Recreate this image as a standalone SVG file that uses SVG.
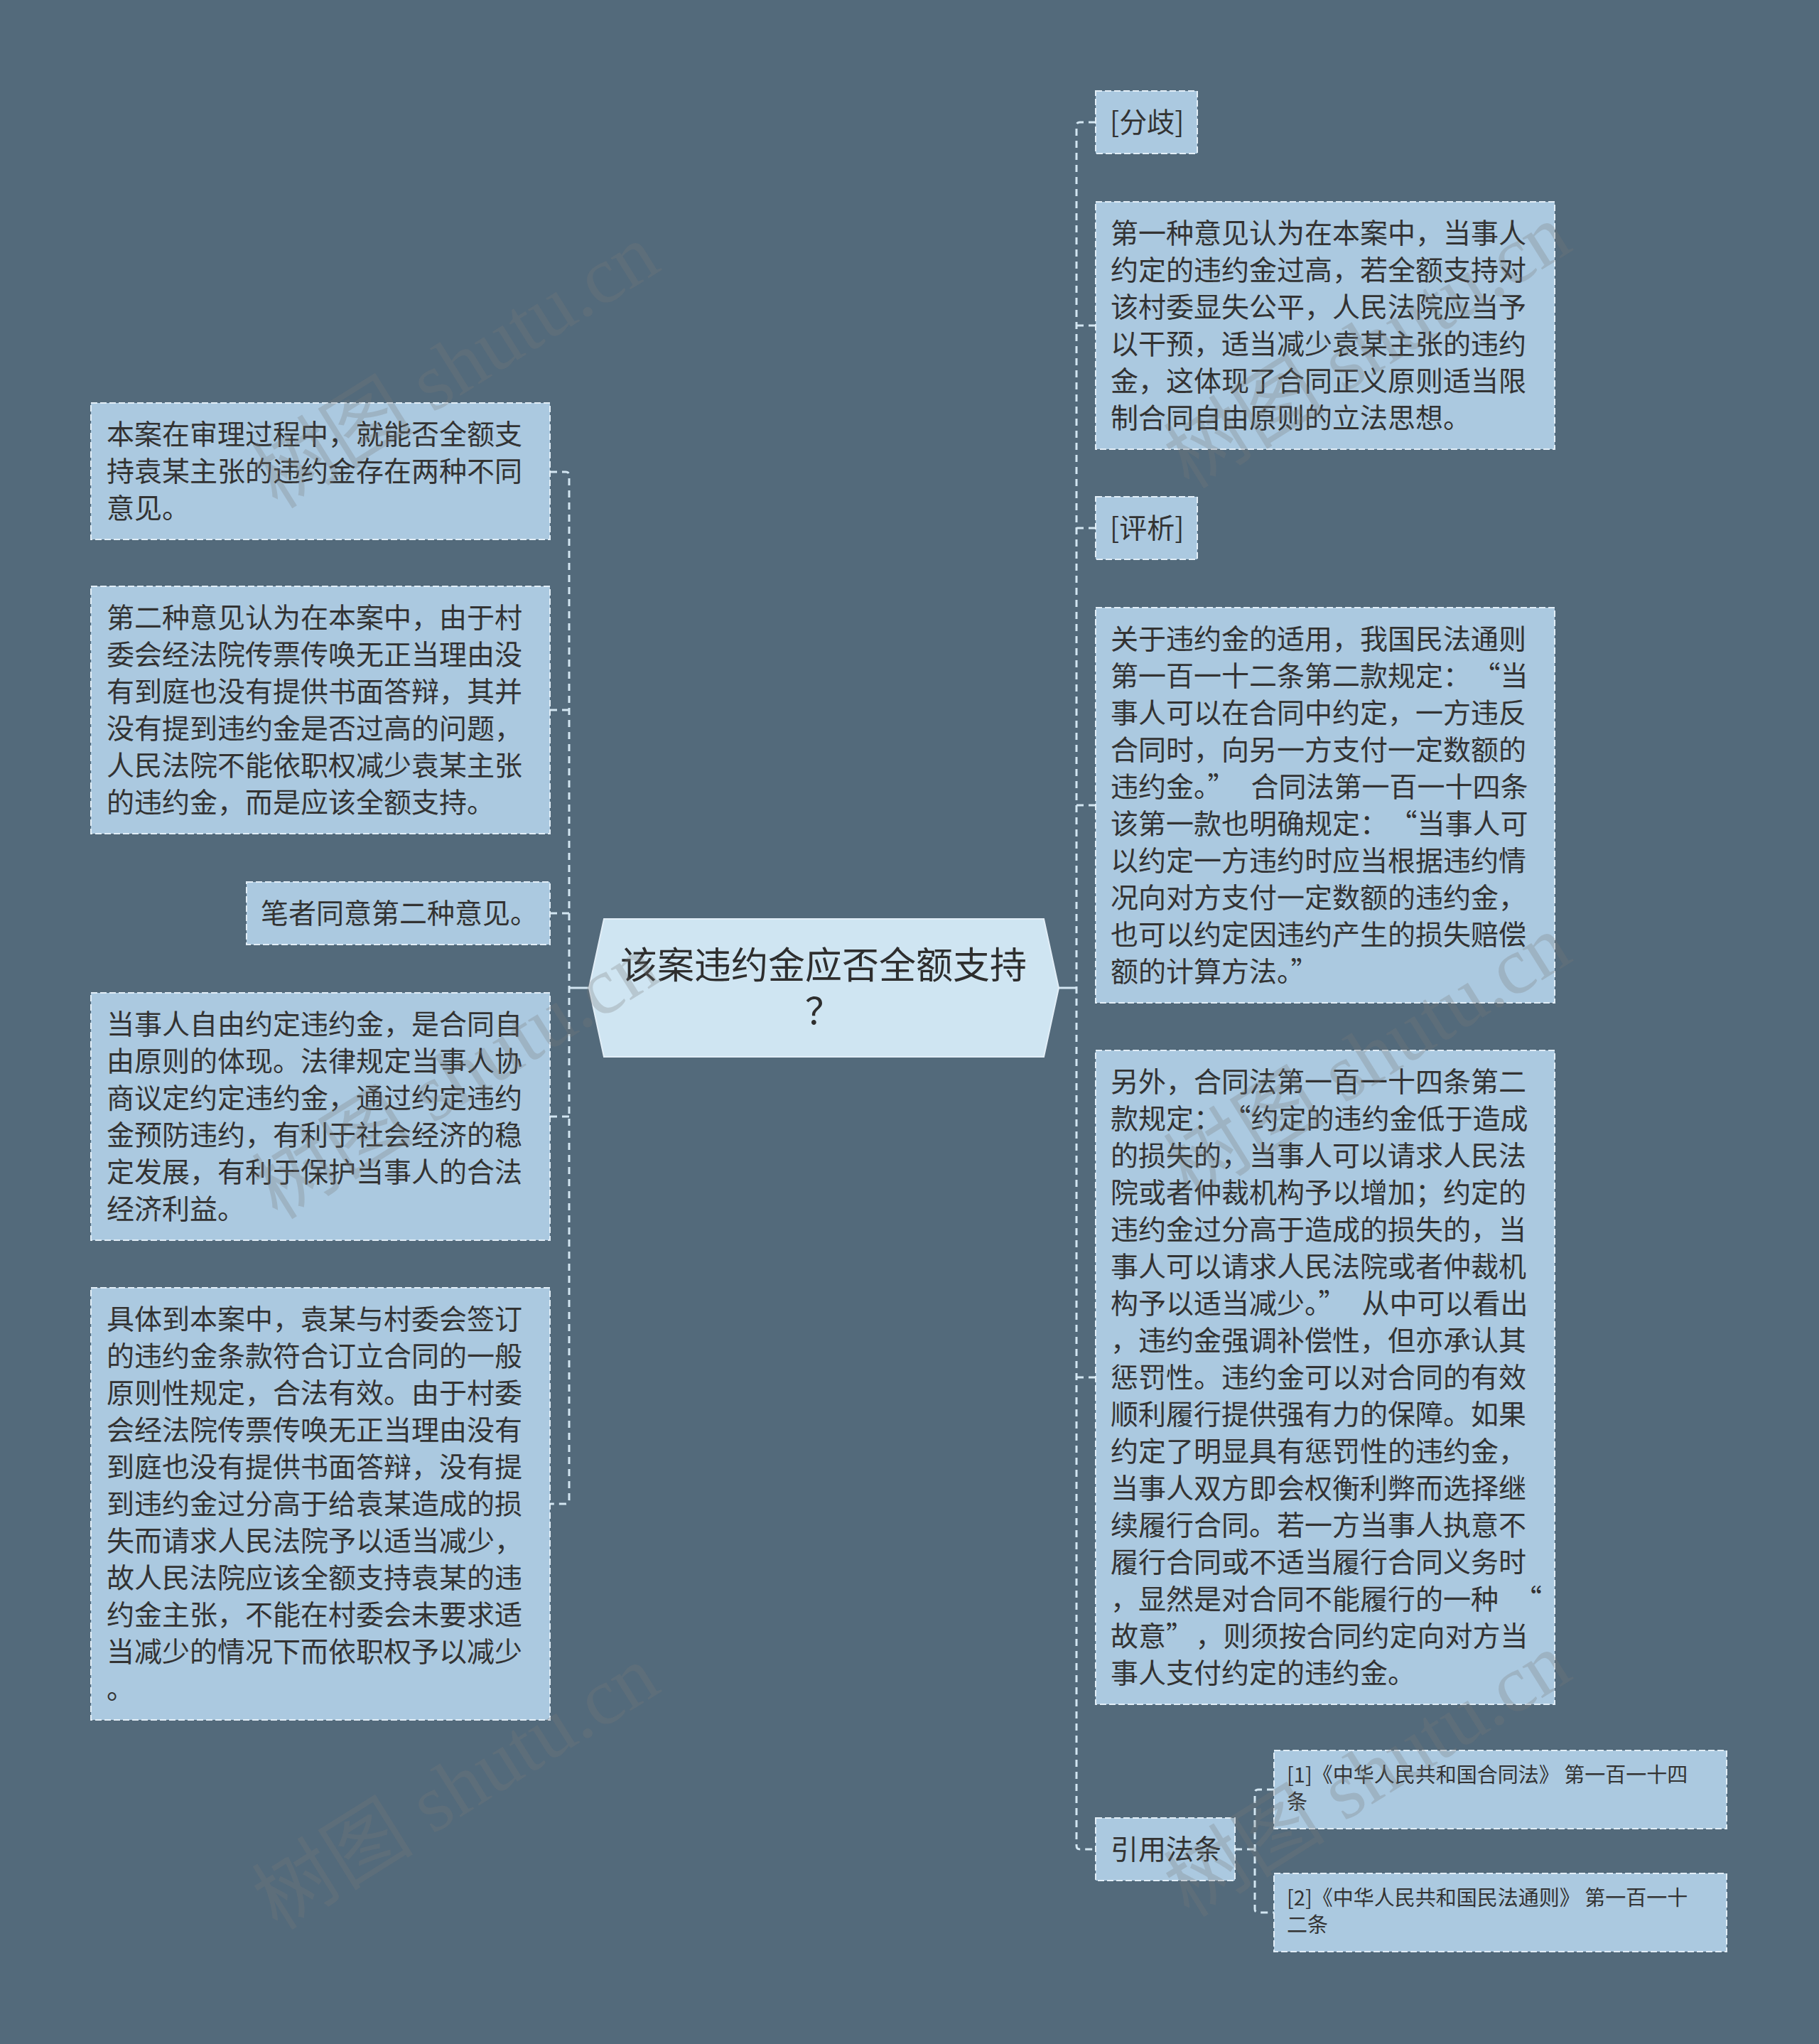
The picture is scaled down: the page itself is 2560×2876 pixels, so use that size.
<svg xmlns="http://www.w3.org/2000/svg" width="2560" height="2876" viewBox="0 0 2560 2876">
<style>
.bg{fill:#536a7b}
.box{fill:#abc9e0;stroke:#e2eef7;stroke-width:2;stroke-dasharray:9 4}
.center{fill:#cfe5f2;stroke:#e2eef7;stroke-width:2}
.t{font-family:"Noto Sans CJK SC","Noto Sans",sans-serif;font-size:39px;fill:#333333}
.ts{font-family:"Noto Sans CJK SC","Noto Sans",sans-serif;font-size:29px;fill:#333333}
.tc{font-family:"Noto Sans CJK SC","Noto Sans",sans-serif;font-size:52px;fill:#2e2e2e;text-anchor:middle}
.dash{fill:none;stroke:#d3e6f2;stroke-width:3;stroke-dasharray:10 7}
.solid{fill:none;stroke:#d3e6f2;stroke-width:3}
.wm{font-family:"Liberation Serif","Noto Sans CJK SC",serif;font-size:114px;fill:#7a7a7a;fill-opacity:0.28;text-anchor:middle}
</style>
<rect class="bg" x="0" y="0" width="2560" height="2876"/>

<g id="connectors">
  <path class="solid" d="M829 1390 H801"/>
  <path class="dash" d="M774 664 H796 Q801 664 801 669 V2111 Q801 2116 796 2116 H774"/>
  <path class="dash" d="M801 999 H774"/>
  <path class="dash" d="M801 1285 H774"/>
  <path class="dash" d="M801 1571 H774"/>
  <path class="solid" d="M1490 1390 H1515"/>
  <path class="dash" d="M1542 172 H1520 Q1515 172 1515 177 V2597 Q1515 2602 1520 2602 H1542"/>
  <path class="dash" d="M1515 458 H1542"/>
  <path class="dash" d="M1515 743 H1542"/>
  <path class="dash" d="M1515 1133 H1542"/>
  <path class="dash" d="M1515 1938 H1542"/>
  <path class="dash" d="M1738 2602 H1766"/>
  <path class="dash" d="M1793 2518 H1771 Q1766 2518 1766 2523 V2686 Q1766 2691 1771 2691 H1793"/>
</g>

<g id="center">
  <polygon class="center" points="829,1390 850,1293 1469,1293 1490,1390 1469,1487 850,1487"/>
  <text class="tc" x="1159" y="1377">该案违约金应否全额支持</text>
  <text class="tc" x="1159" y="1442">？</text>
</g>

<g id="L1">
  <rect class="box" x="128" y="567" width="646" height="192"/>
  <text class="t" x="150" y="625">本案在审理过程中，就能否全额支</text>
  <text class="t" x="150" y="677">持袁某主张的违约金存在两种不同</text>
  <text class="t" x="150" y="729">意见。</text>
</g>

<g id="L2">
  <rect class="box" x="128" y="825" width="646" height="348"/>
  <text class="t" x="150" y="883">第二种意见认为在本案中，由于村</text>
  <text class="t" x="150" y="935">委会经法院传票传唤无正当理由没</text>
  <text class="t" x="150" y="987">有到庭也没有提供书面答辩，其并</text>
  <text class="t" x="150" y="1039">没有提到违约金是否过高的问题，</text>
  <text class="t" x="150" y="1091">人民法院不能依职权减少袁某主张</text>
  <text class="t" x="150" y="1143">的违约金，而是应该全额支持。</text>
</g>

<g id="L3">
  <rect class="box" x="347" y="1241" width="427" height="88"/>
  <text class="t" x="367" y="1299">笔者同意第二种意见。</text>
</g>

<g id="L4">
  <rect class="box" x="128" y="1397" width="646" height="348"/>
  <text class="t" x="150" y="1455">当事人自由约定违约金，是合同自</text>
  <text class="t" x="150" y="1507">由原则的体现。法律规定当事人协</text>
  <text class="t" x="150" y="1559">商议定约定违约金，通过约定违约</text>
  <text class="t" x="150" y="1611">金预防违约，有利于社会经济的稳</text>
  <text class="t" x="150" y="1663">定发展，有利于保护当事人的合法</text>
  <text class="t" x="150" y="1715">经济利益。</text>
</g>

<g id="L5">
  <rect class="box" x="128" y="1812" width="646" height="608"/>
  <text class="t" x="150" y="1870">具体到本案中，袁某与村委会签订</text>
  <text class="t" x="150" y="1922">的违约金条款符合订立合同的一般</text>
  <text class="t" x="150" y="1974">原则性规定，合法有效。由于村委</text>
  <text class="t" x="150" y="2026">会经法院传票传唤无正当理由没有</text>
  <text class="t" x="150" y="2078">到庭也没有提供书面答辩，没有提</text>
  <text class="t" x="150" y="2130">到违约金过分高于给袁某造成的损</text>
  <text class="t" x="150" y="2182">失而请求人民法院予以适当减少，</text>
  <text class="t" x="150" y="2234">故人民法院应该全额支持袁某的违</text>
  <text class="t" x="150" y="2286">约金主张，不能在村委会未要求适</text>
  <text class="t" x="150" y="2338">当减少的情况下而依职权予以减少</text>
  <text class="t" x="150" y="2390">。</text>
</g>

<g id="R1">
  <rect class="box" x="1542" y="128" width="143" height="88"/>
  <text class="t" x="1562" y="186">[分歧]</text>
</g>

<g id="R2">
  <rect class="box" x="1542" y="284" width="646" height="348"/>
  <text class="t" x="1563" y="342">第一种意见认为在本案中，当事人</text>
  <text class="t" x="1563" y="394">约定的违约金过高，若全额支持对</text>
  <text class="t" x="1563" y="446">该村委显失公平，人民法院应当予</text>
  <text class="t" x="1563" y="498">以干预，适当减少袁某主张的违约</text>
  <text class="t" x="1563" y="550">金，这体现了合同正义原则适当限</text>
  <text class="t" x="1563" y="602">制合同自由原则的立法思想。</text>
</g>

<g id="R3">
  <rect class="box" x="1542" y="699" width="143" height="88"/>
  <text class="t" x="1562" y="757">[评析]</text>
</g>

<g id="R4">
  <rect class="box" x="1542" y="855" width="646" height="556"/>
  <text class="t" x="1563" y="913">关于违约金的适用，我国民法通则</text>
  <text class="t" x="1563" y="965">第一百一十二条第二款规定：<tspan dx="22">“</tspan>当</text>
  <text class="t" x="1563" y="1017">事人可以在合同中约定，一方违反</text>
  <text class="t" x="1563" y="1069">合同时，向另一方支付一定数额的</text>
  <text class="t" x="1563" y="1121">违约金。”<tspan dx="22">合同法第一百一十四条</tspan></text>
  <text class="t" x="1563" y="1173">该第一款也明确规定：<tspan dx="22">“</tspan>当事人可</text>
  <text class="t" x="1563" y="1225">以约定一方违约时应当根据违约情</text>
  <text class="t" x="1563" y="1277">况向对方支付一定数额的违约金，</text>
  <text class="t" x="1563" y="1329">也可以约定因违约产生的损失赔偿</text>
  <text class="t" x="1563" y="1381">额的计算方法。”</text>
</g>

<g id="R5">
  <rect class="box" x="1542" y="1478" width="646" height="920"/>
  <text class="t" x="1563" y="1536">另外，合同法第一百一十四条第二</text>
  <text class="t" x="1563" y="1588">款规定：<tspan dx="22">“</tspan>约定的违约金低于造成</text>
  <text class="t" x="1563" y="1640">的损失的，当事人可以请求人民法</text>
  <text class="t" x="1563" y="1692">院或者仲裁机构予以增加；约定的</text>
  <text class="t" x="1563" y="1744">违约金过分高于造成的损失的，当</text>
  <text class="t" x="1563" y="1796">事人可以请求人民法院或者仲裁机</text>
  <text class="t" x="1563" y="1848">构予以适当减少。”<tspan dx="22">从中可以看出</tspan></text>
  <text class="t" x="1563" y="1900">，违约金强调补偿性，但亦承认其</text>
  <text class="t" x="1563" y="1952">惩罚性。违约金可以对合同的有效</text>
  <text class="t" x="1563" y="2004">顺利履行提供强有力的保障。如果</text>
  <text class="t" x="1563" y="2056">约定了明显具有惩罚性的违约金，</text>
  <text class="t" x="1563" y="2108">当事人双方即会权衡利弊而选择继</text>
  <text class="t" x="1563" y="2160">续履行合同。若一方当事人执意不</text>
  <text class="t" x="1563" y="2212">履行合同或不适当履行合同义务时</text>
  <text class="t" x="1563" y="2264">，显然是对合同不能履行的一种<tspan dx="22">“</tspan></text>
  <text class="t" x="1563" y="2316">故意”<tspan dx="22">，则须按合同约定向对方当</tspan></text>
  <text class="t" x="1563" y="2368">事人支付约定的违约金。</text>
</g>

<g id="R6">
  <rect class="box" x="1542" y="2558" width="196" height="88"/>
  <text class="t" x="1563" y="2616">引用法条</text>
</g>

<g id="R7">
  <rect class="box" x="1793" y="2463" width="637" height="110"/>
  <text class="ts" x="1811" y="2508">[1]《中华人民共和国合同法》 第一百一十四</text>
  <text class="ts" x="1811" y="2546">条</text>
</g>

<g id="R8">
  <rect class="box" x="1793" y="2636" width="637" height="110"/>
  <text class="ts" x="1811" y="2681">[2]《中华人民共和国民法通则》 第一百一十</text>
  <text class="ts" x="1811" y="2719">二条</text>
</g>

<g id="watermarks">
  <text class="wm" transform="translate(662 548) rotate(-32)">树图 shutu.cn</text>
  <text class="wm" transform="translate(662 1548) rotate(-32)">树图 shutu.cn</text>
  <text class="wm" transform="translate(662 2548) rotate(-32)">树图 shutu.cn</text>
  <text class="wm" transform="translate(1945 520) rotate(-32)">树图 shutu.cn</text>
  <text class="wm" transform="translate(1945 1520) rotate(-32)">树图 shutu.cn</text>
  <text class="wm" transform="translate(1945 2530) rotate(-32)">树图 shutu.cn</text>
</g>
</svg>
